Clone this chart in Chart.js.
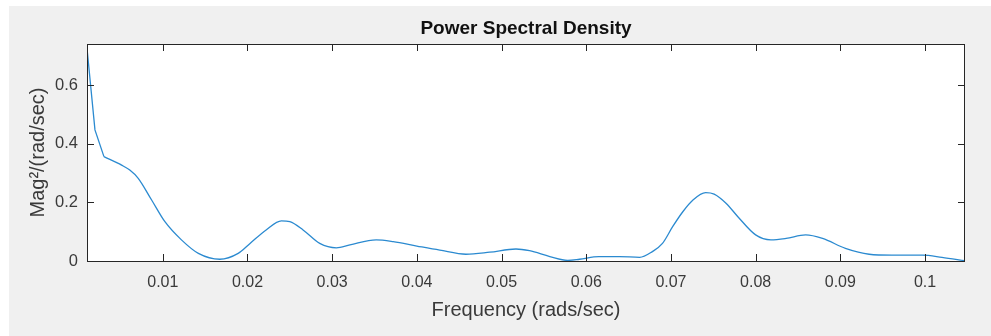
<!DOCTYPE html>
<html>
<head>
<meta charset="utf-8">
<script src="https://cdn.jsdelivr.net/npm/chart.js@4.4.0/dist/chart.umd.min.js"></script>
<style>
    html, body { margin: 0; padding: 0; background: #ffffff; }
    #frame { position: absolute; left: 9px; top: 6px; width: 982px; height: 330px; background: #f0f0f0; }
    #canvas { position: absolute; left: 0; top: 0; }
</style>
</head>
<body>
<div id="frame"></div>
<canvas id="canvas" width="991" height="336"></canvas>
<script>
// frequency (rads/sec)
const freq = [0.00105, 0.00199, 0.00305, 0.00514, 0.0061, 0.0071, 0.00868, 0.01025, 0.0122, 0.0142,
    0.01673, 0.0189, 0.0203, 0.0222, 0.0240, 0.0250, 0.02656, 0.02853, 0.0305, 0.0321,
    0.0352, 0.0372, 0.0400, 0.0427, 0.0458, 0.0486, 0.0517, 0.0533, 0.0557, 0.0578,
    0.0592, 0.0615, 0.0639, 0.0663, 0.0678, 0.0690, 0.0702, 0.0714, 0.0726, 0.0741,
    0.0751, 0.0765, 0.0779, 0.0800, 0.0818, 0.0836, 0.0859, 0.0879, 0.0906, 0.0934,
    0.0961, 0.0997, 0.1020, 0.10472];
// power spectral density, Mag^2/(rad/sec)
const psd = [0.725, 0.447, 0.356, 0.327, 0.31, 0.282, 0.208, 0.134, 0.072, 0.026,
    0.006, 0.026, 0.06, 0.106, 0.137, 0.134, 0.106, 0.06, 0.045, 0.055,
    0.072, 0.066, 0.051, 0.037, 0.023, 0.03, 0.041, 0.035, 0.015, 0.002,
    0.006, 0.015, 0.015, 0.0125, 0.032, 0.06, 0.117, 0.168, 0.208, 0.233,
    0.228, 0.197, 0.151, 0.089, 0.072, 0.077, 0.089, 0.077, 0.043, 0.023,
    0.02, 0.02, 0.0125, 0.001];
const xTicks = [0.01, 0.02, 0.03, 0.04, 0.05, 0.06, 0.07, 0.08, 0.09, 0.1];
const yTicks = [0, 0.2, 0.4, 0.6];
const knee = 2; // first few samples are joined by straight segments

const textColor = "#3a3a3a";
const lineColor = "#2b8ad0";
const fontName = "'Liberation Sans', Arial, Helvetica, sans-serif";

// white plot box behind the line
const plotBackground = {
    id: "plotBackground",
    beforeDraw(chart) {
        const { ctx, chartArea } = chart;
        ctx.save();
        ctx.fillStyle = "#ffffff";
        ctx.fillRect(chartArea.left, chartArea.top, chartArea.right - chartArea.left, chartArea.bottom - chartArea.top);
        ctx.restore();
    }
};

// matlab style box with ticks pointing inwards on all four sides
const boxTicks = {
    id: "boxTicks",
    afterDraw(chart) {
        const { ctx, chartArea, scales } = chart;
        const len = 7;
        ctx.save();
        ctx.strokeStyle = "#262626";
        ctx.lineWidth = 1;
        ctx.strokeRect(chartArea.left + 0.5, chartArea.top + 0.5, chartArea.right - chartArea.left - 1, chartArea.bottom - chartArea.top);
        ctx.beginPath();
        scales.x.ticks.forEach(t => {
            const px = Math.round(scales.x.getPixelForValue(t.value)) + 0.5;
            ctx.moveTo(px, chartArea.bottom);
            ctx.lineTo(px, chartArea.bottom - len);
            ctx.moveTo(px, chartArea.top);
            ctx.lineTo(px, chartArea.top + len);
        });
        scales.y.ticks.forEach(t => {
            const py = Math.round(scales.y.getPixelForValue(t.value)) + 0.5;
            ctx.moveTo(chartArea.left, py);
            ctx.lineTo(chartArea.left + len, py);
            ctx.moveTo(chartArea.right, py);
            ctx.lineTo(chartArea.right - len, py);
        });
        ctx.stroke();
        ctx.restore();
    }
};

const points = freq.map((f, i) => ({ x: f, y: psd[i] }));

const canvas = document.getElementById("canvas");
const context = canvas.getContext("2d");

new Chart(context, {
    type: "line",
    data: {
        datasets: [{
            data: points.slice(0, knee + 1),
            borderColor: lineColor,
            borderWidth: 1.3,
            pointRadius: 0,
            fill: false,
            tension: 0
        }, {
            data: points.slice(knee),
            borderColor: lineColor,
            borderWidth: 1.3,
            pointRadius: 0,
            fill: false,
            cubicInterpolationMode: "monotone"
        }]
    },
    options: {
        responsive: false,
        animation: false,
        layout: { padding: { left: 0, right: 26, top: 0, bottom: 0 } },
        plugins: {
            legend: { display: false },
            tooltip: { enabled: false },
            title: {
                display: true,
                text: "Power Spectral Density",
                fullSize: false,
                color: "#111111",
                font: { family: fontName, size: 19, weight: "bold" },
                padding: { top: 17, bottom: 4.2 }
            }
        },
        scales: {
            x: {
                type: "linear",
                min: 0.00105,
                max: 0.10472,
                grid: { display: false, drawTicks: false },
                border: { display: false },
                afterBuildTicks: scale => { scale.ticks = xTicks.map(v => ({ value: v })); },
                afterFit: scale => { scale.height = 75; },
                ticks: {
                    color: textColor,
                    padding: 12,
                    maxRotation: 0,
                    autoSkip: false,
                    font: { family: fontName, size: 16 },
                    callback: v => String(Number(v.toFixed(2)))
                },
                title: {
                    display: true,
                    text: "Frequency (rads/sec)",
                    color: textColor,
                    font: { family: fontName, size: 20 },
                    padding: { top: 0, bottom: 14 }
                }
            },
            y: {
                min: 0,
                max: 0.74,
                grid: { display: false, drawTicks: false },
                border: { display: false },
                afterBuildTicks: scale => { scale.ticks = yTicks.map(v => ({ value: v })); },
                afterFit: scale => { scale.width = 87; },
                ticks: {
                    color: textColor,
                    padding: 9,
                    autoSkip: false,
                    font: { family: fontName, size: 16.5 },
                    callback: v => String(Number(v.toFixed(2)))
                },
                title: {
                    display: true,
                    text: "Mag²/(rad/sec)",
                    color: textColor,
                    font: { family: fontName, size: 20 },
                    padding: { top: 26, bottom: 0 }
                }
            }
        }
    },
    plugins: [plotBackground, boxTicks]
});
</script>
</body>
</html>
